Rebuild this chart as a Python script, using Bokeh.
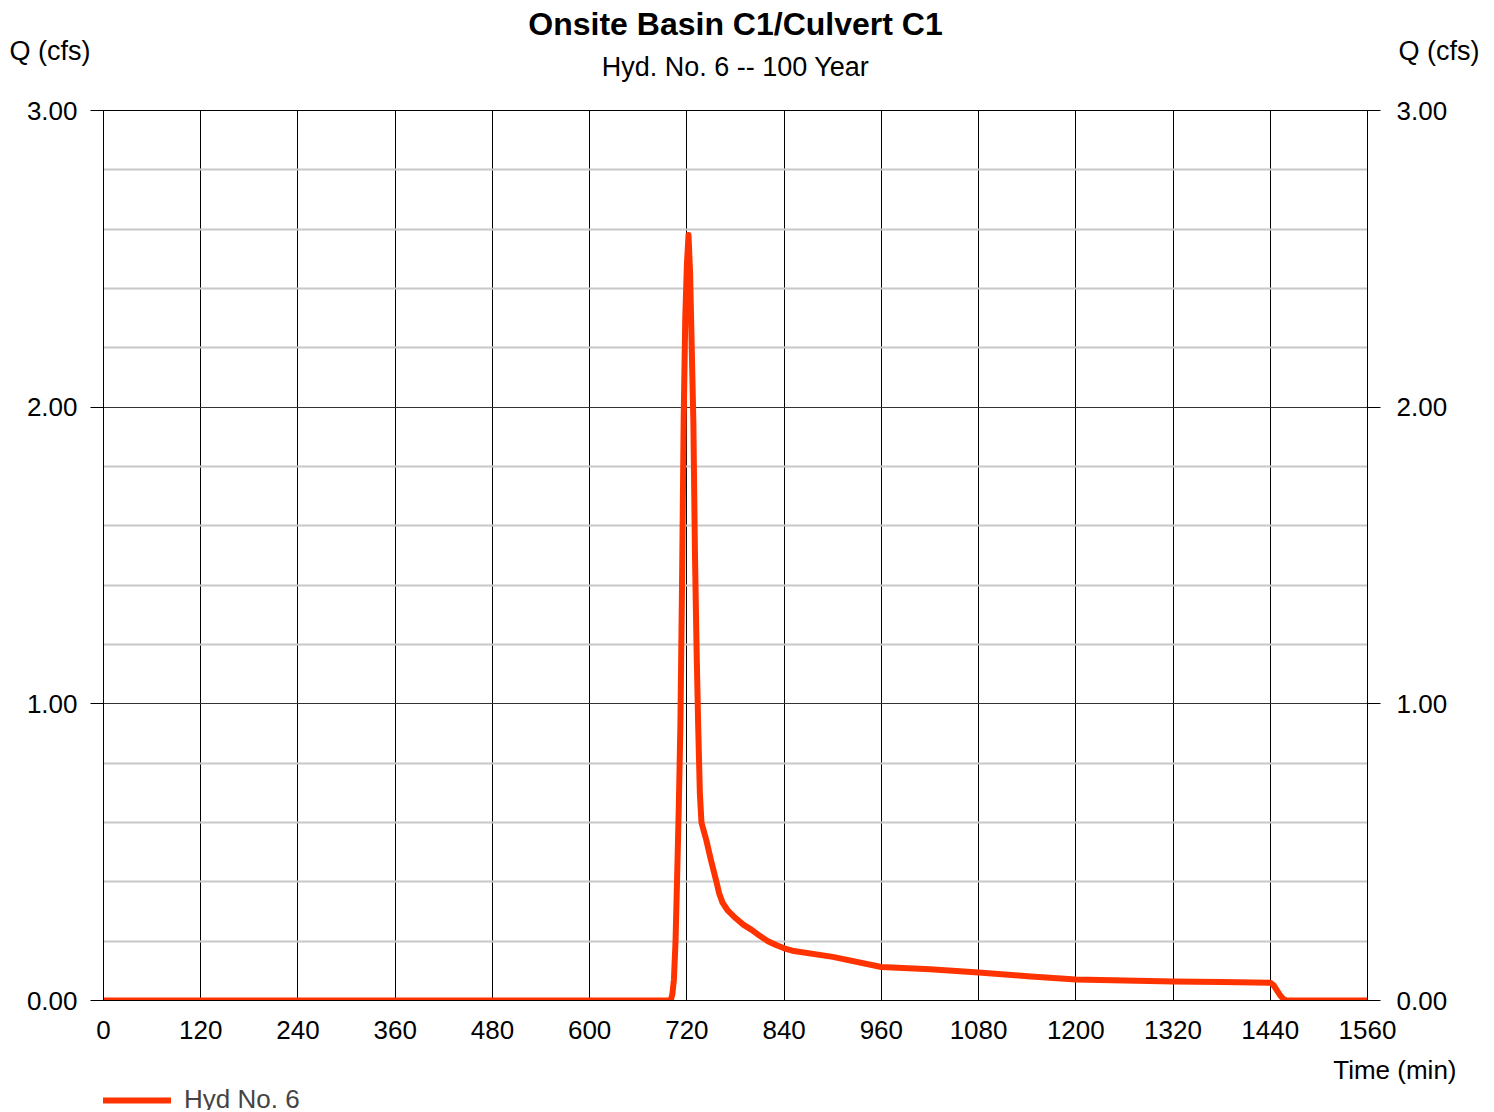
from bokeh.plotting import figure
from bokeh.layouts import column
from bokeh.models import (FixedTicker, LinearAxis, Range1d, Legend, LegendItem, Title,
                          NumeralTickFormatter, ColumnDataSource)
from bokeh.core.properties import value
from bokeh.embed import file_html
from bokeh.resources import INLINE

# ---- data ----
time_min = [0, 696, 700, 702, 704, 706, 708, 710, 712, 714, 716, 718, 720, 722, 724, 726,
            728, 730, 732, 734, 736, 738, 744, 750, 756, 760, 764, 770, 780, 790, 800, 810,
            820, 830, 840, 850, 900, 960, 1020, 1080, 1140, 1200, 1260, 1320, 1380, 1440,
            1444, 1448, 1452, 1456, 1460, 1560]
q_cfs = [0.0, 0.0, 0.0, 0.02, 0.07, 0.20, 0.42, 0.65, 0.93, 1.40, 1.95, 2.30, 2.48, 2.58, 2.45, 2.20,
         1.95, 1.50, 1.18, 0.92, 0.70, 0.60, 0.54, 0.47, 0.405, 0.36, 0.33, 0.305, 0.278, 0.255, 0.238, 0.218,
         0.200, 0.187, 0.176, 0.168, 0.147, 0.113, 0.105, 0.094, 0.082, 0.071, 0.067, 0.064, 0.062, 0.060,
         0.052, 0.035, 0.018, 0.005, 0.0, 0.0]
x_ticks = [0, 120, 240, 360, 480, 600, 720, 840, 960, 1080, 1200, 1320, 1440, 1560]
y_ticks = [0, 1, 2, 3]
y_minor = [0.2, 0.4, 0.6, 0.8, 1.2, 1.4, 1.6, 1.8, 2.2, 2.4, 2.6, 2.8]

title_text = "Onsite Basin C1/Culvert C1"
subtitle_text = "Hyd. No. 6 -- 100 Year"
y_label = "Q (cfs)"
x_label = "Time (min)"
series_name = "Hyd No. 6"

FONT = "Liberation Sans"
W = 1494
HEAD_H = 92
FL, FW, FH = 103, 1264, 890
FR = W - FL - FW
FT = 18

src = ColumnDataSource(dict(t=time_min, q=q_cfs))

# ---- header: titles and the Q (cfs) labels ----
head = figure(frame_width=FW, frame_height=HEAD_H, output_backend="svg", toolbar_location=None,
              title=None, x_range=Range1d(FL, FL + FW), y_range=Range1d(HEAD_H, 0),
              x_axis_location=None, y_axis_location=None,
              min_border_left=FL, min_border_right=FR, min_border_top=0, min_border_bottom=0)
head.grid.visible = False
head.outline_line_color = None
head.background_fill_color = "white"
head.border_fill_color = "white"

def htext(x, y, txt, size, style="normal"):
    head.text(x=[x], y=[y], text=[txt], text_align=value("center"), text_baseline=value("middle"),
              text_font=value(FONT), text_font_size=value(size), text_font_style=value(style),
              text_color="black")

htext(735, 23, title_text, "32px", "bold")
htext(735, 66, subtitle_text, "27px")

q_tick = FixedTicker(ticks=[50])
for side, standoff in (("left", 13), ("right", 31)):
    ax = LinearAxis(ticker=q_tick, major_label_overrides={50: y_label},
                    axis_line_color=None, major_tick_line_color=None,
                    minor_tick_line_color=None, major_label_standoff=standoff,
                    major_tick_out=0, major_tick_in=0,
                    major_label_text_font=FONT, major_label_text_font_size="27px",
                    major_label_text_color="black")
    head.add_layout(ax, side)

# ---- main chart ----
p = figure(frame_width=FW, frame_height=FH, output_backend="svg", toolbar_location=None,
           title=None, x_range=Range1d(0, 1560), y_range=Range1d(0, 3),
           min_border_left=FL, min_border_top=FT, min_border_right=FR, min_border_bottom=0)
p.background_fill_color = "white"
p.border_fill_color = "white"
p.outline_line_color = "black"
p.outline_line_width = 1

yt = FixedTicker(ticks=y_ticks, minor_ticks=y_minor)
xt = FixedTicker(ticks=x_ticks)

p.xaxis.ticker = xt
p.yaxis.ticker = yt
p.yaxis.formatter = NumeralTickFormatter(format="0.00")

right = LinearAxis(ticker=yt, formatter=NumeralTickFormatter(format="0.00"))
p.add_layout(right, "right")

for ax in p.yaxis:
    ax.major_tick_out = 13
    ax.major_tick_in = 0
    ax.minor_tick_line_color = None
    ax.axis_line_color = "black"
    ax.major_tick_line_color = "black"
    ax.major_label_text_font = FONT
    ax.major_label_text_font_size = "26px"
    ax.major_label_text_color = "black"
p.yaxis[0].major_label_standoff = 13
p.yaxis[1].major_label_standoff = 16

xa = p.xaxis[0]
xa.major_tick_out = 0
xa.major_tick_in = 0
xa.minor_tick_line_color = None
xa.axis_line_color = "black"
xa.major_label_text_font = FONT
xa.major_label_text_font_size = "26px"
xa.major_label_text_color = "black"
xa.major_label_standoff = 20
# blank spacer label: pushes the "Time (min)" row down a little
xa.axis_label = " "
xa.axis_label_text_font_size = "1px"
xa.axis_label_standoff = 7

p.xgrid.grid_line_color = "black"
p.xgrid.grid_line_width = 1
p.xgrid.grid_line_alpha = 1
p.ygrid.grid_line_color = "#333333"
p.ygrid.grid_line_width = 1
p.ygrid.minor_grid_line_color = "#c8c8c8"
p.ygrid.minor_grid_line_width = 2

p.line("t", "q", source=src, line_color="#ff3300", line_width=6,
       line_join="round", line_cap="round")

p.add_layout(Title(text=x_label, align="right", offset=-89, standoff=0,
                   text_font=FONT, text_font_size="26px", text_font_style="normal",
                   text_color="black"), "below")

# ---- footer: legend ----
foot = figure(frame_width=FW, frame_height=26, output_backend="svg", toolbar_location=None,
              title=None, x_range=Range1d(0, 1560), y_range=Range1d(10, 11),
              x_axis_location=None, y_axis_location=None,
              min_border_left=FL, min_border_right=FR, min_border_top=0, min_border_bottom=0)
foot.grid.visible = False
foot.outline_line_color = None
foot.background_fill_color = "white"
foot.border_fill_color = "white"
lr = foot.line("t", "q", source=src, line_color="#ff3300", line_width=6,
               line_join="round", line_cap="round")
lr.visible = False

legend = Legend(items=[LegendItem(label=series_name, renderers=[lr])],
                location="top_left", orientation="horizontal",
                label_text_font=FONT, label_text_font_size="26px",
                label_text_line_height=1.0,
                glyph_width=68, glyph_height=20, label_height=20, label_standoff=13,
                padding=0, margin=0, spacing=0,
                border_line_color=None, background_fill_alpha=0)
foot.add_layout(legend, "center")

layout = column(head, p, foot, spacing=0)
open("out.html", "w").write(file_html(layout, INLINE))
